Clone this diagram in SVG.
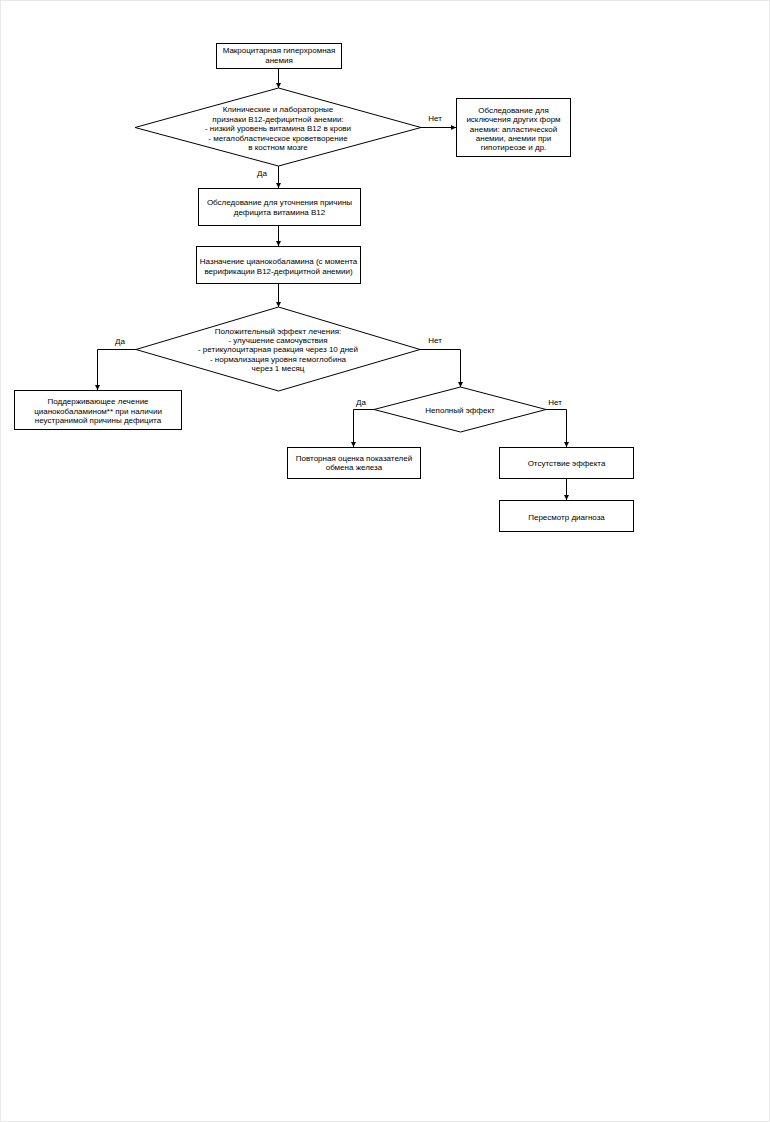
<svg xmlns="http://www.w3.org/2000/svg" width="770" height="1122" viewBox="0 0 770 1122">
<style>
.n{fill:#fff;stroke:#000;stroke-width:1}
.c{fill:none;stroke:#000;stroke-width:1}
text{font-family:"Liberation Sans",Arial,sans-serif;font-size:8px;fill:#000;text-anchor:middle}
</style>
<defs>
<marker id="a" viewBox="0 0 8 8" refX="8" refY="4" markerWidth="5" markerHeight="5" markerUnits="userSpaceOnUse" orient="auto">
<path d="M0,0 L8,4 L0,8 Z" fill="#000"/>
</marker>
</defs>
<rect x="0" y="0" width="770" height="1122" fill="#fff"/>
<rect x="0.5" y="0.5" width="769" height="1121" fill="none" stroke="#e8e8e8" stroke-width="1"/>
<g id="connectors">
<path class="c" d="M278.5,68 V88" marker-end="url(#a)"/>
<path class="c" d="M421,127.5 H456" marker-end="url(#a)"/>
<path class="c" d="M278.5,166 V188" marker-end="url(#a)"/>
<path class="c" d="M278.5,226 V246" marker-end="url(#a)"/>
<path class="c" d="M278.5,284 V307" marker-end="url(#a)"/>
<path class="c" d="M136,349.5 H97.5 V390" marker-end="url(#a)"/>
<path class="c" d="M420,349.5 H460.5 V387" marker-end="url(#a)"/>
<path class="c" d="M374,409.5 H353.5 V447" marker-end="url(#a)"/>
<path class="c" d="M546,409.5 H566.5 V447" marker-end="url(#a)"/>
<path class="c" d="M566.5,479 V500" marker-end="url(#a)"/>
<text x="435" y="121">Нет</text>
<text x="262" y="176">Да</text>
<text x="120" y="343.5">Да</text>
<text x="435" y="343">Нет</text>
<text x="361" y="404.5">Да</text>
<text x="555" y="405">Нет</text>
</g>
<g id="start">
<rect class="n" x="216.5" y="43.5" width="125" height="25"/>
<text x="279" y="53">Макроцитарная гиперхромная</text>
<text x="279" y="62.5">анемия</text>
</g>
<g id="decision1">
<polygon class="n" points="278.5,88 421,127.5 278.5,166 135,127.5"/>
<text x="278" y="112">Клинические и лабораторные</text>
<text x="278" y="121.6">признаки В12-дефицитной анемии:</text>
<text x="278" y="131.2">- низкий уровень витамина В12 в крови</text>
<text x="278" y="140.8">- мегалобластическое кроветворение</text>
<text x="278" y="150.4">в костном мозге</text>
</g>
<g id="exclude">
<rect class="n" x="456.5" y="98.5" width="114" height="58"/>
<text x="513.5" y="113">Обследование для</text>
<text x="513.5" y="122.3">исключения других форм</text>
<text x="513.5" y="131.6">анемии: апластической</text>
<text x="513.5" y="141">анемии, анемии при</text>
<text x="513.5" y="150.3">гипотиреозе и др.</text>
</g>
<g id="cause">
<rect class="n" x="198.5" y="188.5" width="162" height="37"/>
<text x="279.5" y="204.7">Обследование для уточнения причины</text>
<text x="279.5" y="214.5">дефицита витамина В12</text>
</g>
<g id="prescribe">
<rect class="n" x="196.5" y="246.5" width="164" height="37"/>
<text x="278.5" y="264">Назначение цианокобаламина (с момента</text>
<text x="278.5" y="273.7">верификации В12-дефицитной анемии)</text>
</g>
<g id="decision2">
<polygon class="n" points="278.5,307 420,349.5 278.5,391 136,349.5"/>
<text x="278" y="333.7">Положительный эффект лечения:</text>
<text x="278" y="343">- улучшение самочувствия</text>
<text x="278" y="352.3">- ретикулоцитарная реакция через 10 дней</text>
<text x="278" y="362">- нормализация уровня гемоглобина</text>
<text x="278" y="371.3">через 1 месяц</text>
</g>
<g id="maintenance">
<rect class="n" x="14.5" y="390.5" width="167" height="39"/>
<text x="98" y="404">Поддерживающее лечение</text>
<text x="98" y="413.7">цианокобаламином** при наличии</text>
<text x="98" y="423">неустранимой причины дефицита</text>
</g>
<g id="decision3">
<polygon class="n" points="460.5,387 546,409.5 460.5,432 374,409.5"/>
<text x="460" y="413">Неполный эффект</text>
</g>
<g id="iron">
<rect class="n" x="287.5" y="447.5" width="133" height="31"/>
<text x="354" y="460.7">Повторная оценка показателей</text>
<text x="354" y="470.3">обмена железа</text>
</g>
<g id="noeffect">
<rect class="n" x="499.5" y="447.5" width="134" height="31"/>
<text x="566.5" y="466.3">Отсутствие эффекта</text>
</g>
<g id="review">
<rect class="n" x="499.5" y="500.5" width="134" height="31"/>
<text x="566.5" y="519.7">Пересмотр диагноза</text>
</g>
</svg>
